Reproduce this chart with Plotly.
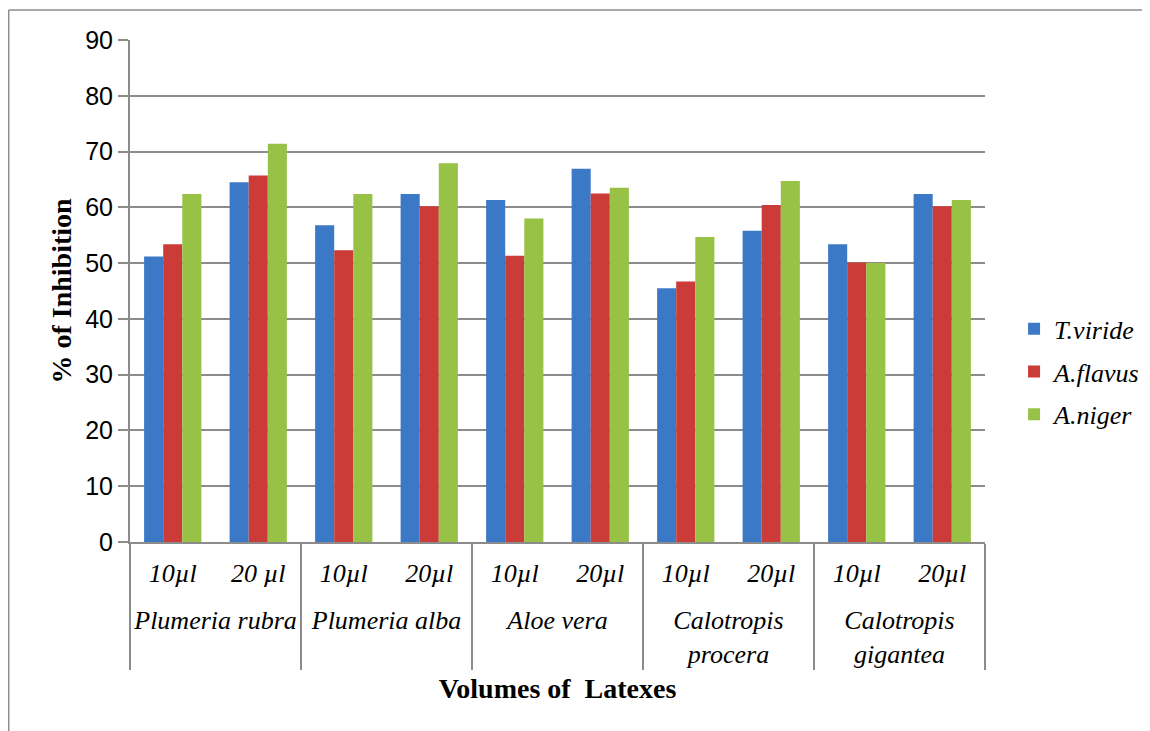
import plotly.graph_objects as go

plants = ["<i>Plumeria rubra</i>", "<i>Plumeria rubra</i>",
          "<i>Plumeria alba</i>", "<i>Plumeria alba</i>",
          "<i>Aloe vera</i>", "<i>Aloe vera</i>",
          "<i>Calotropis<br>procera</i>", "<i>Calotropis<br>procera</i>",
          "<i>Calotropis<br>gigantea</i>", "<i>Calotropis<br>gigantea</i>"]
volumes = ["10µl", "20 µl", "10µl", "20µl", "10µl",
           "20µl", "10µl", "20µl", "10µl", "20µl"]

t_viride = [51.2, 64.5, 56.8, 62.4, 61.3, 66.9, 45.5, 55.8, 53.4, 62.4]
a_flavus = [53.4, 65.7, 52.3, 60.2, 51.3, 62.5, 46.7, 60.4, 50.1, 60.2]
a_niger = [62.4, 71.4, 62.4, 67.9, 58.0, 63.5, 54.7, 64.7, 50.0, 61.3]

y_ticks = [0, 10, 20, 30, 40, 50, 60, 70, 80, 90]

series = [("<i>T.viride</i>", t_viride, "#3b78c6"),
          ("<i>A.flavus</i>", a_flavus, "#cb3b37"),
          ("<i>A.niger</i>", a_niger, "#97c246")]

# inner labels: italic text padded by invisible taller spacers to widen the
# gap between the two label rows of the multicategory axis
pad = "<span style='font-size:47px'>\u00a0</span>"
inner = [pad + "<i>" + v + "</i>" + pad for v in volumes]

fig = go.Figure()
for name, vals, col in series:
    fig.add_trace(go.Bar(x=[plants, inner], y=vals, name=name, legendgroup=name,
                         marker=dict(color=col, line=dict(width=0))))

serif = "Liberation Serif, Times New Roman, serif"
L, T, PW, PH = 122, 32, 860, 502
fig.update_layout(
    width=1150, height=731,
    margin=dict(l=L, r=1150 - L - PW, t=T, b=731 - T - PH),
    plot_bgcolor="white", paper_bgcolor="white",
    barmode="group", bargap=0.33, bargroupgap=0,
    showlegend=True,
    legend=dict(x=1.034, y=0.339, xanchor="left", yanchor="middle",
                font=dict(family=serif, size=26, color="black"),
                itemwidth=30, tracegroupgap=6),
    xaxis=dict(type="multicategory", showline=True, linecolor="#8c8c8c", linewidth=2,
               showdividers=True, dividercolor="#8c8c8c", dividerwidth=2,
               tickfont=dict(family=serif, size=26, color="black"),
               ticks="", ticklabelstandoff=7, tickangle=0, automargin=False,
               title=dict(text="<b>Volumes of  Latexes</b>",
                          font=dict(family=serif, size=28, color="black"),
                          standoff=10)),
    yaxis=dict(range=[0, 90], tickvals=y_ticks, showgrid=True, gridcolor="#8c8c8c",
               gridwidth=2, showline=True, linecolor="#8c8c8c", linewidth=2,
               ticks="outside", ticklen=10, tickcolor="#8c8c8c", tickwidth=2,
               zeroline=False, automargin=False,
               tickfont=dict(family="Liberation Sans, Arial, sans-serif", size=25, color="black"),
               title=dict(text="<b>% of Inhibition</b>",
                          font=dict(family=serif, size=28, color="black"), standoff=5)),
)
fig.add_shape(type="line", xref="paper", yref="paper", x0=-L / PW, x1=-L / PW,
              y0=-(731 - T - PH) / PH, y1=1 + (T - 2) / PH, line=dict(color="#8c8c8c", width=1.5))
fig.add_shape(type="line", xref="paper", yref="paper", x0=-L / PW, x1=(1150 - L) / PW,
              y0=1 + (T - 2) / PH, y1=1 + (T - 2) / PH, line=dict(color="#8c8c8c", width=1.5))
fig.write_html("out.html")
